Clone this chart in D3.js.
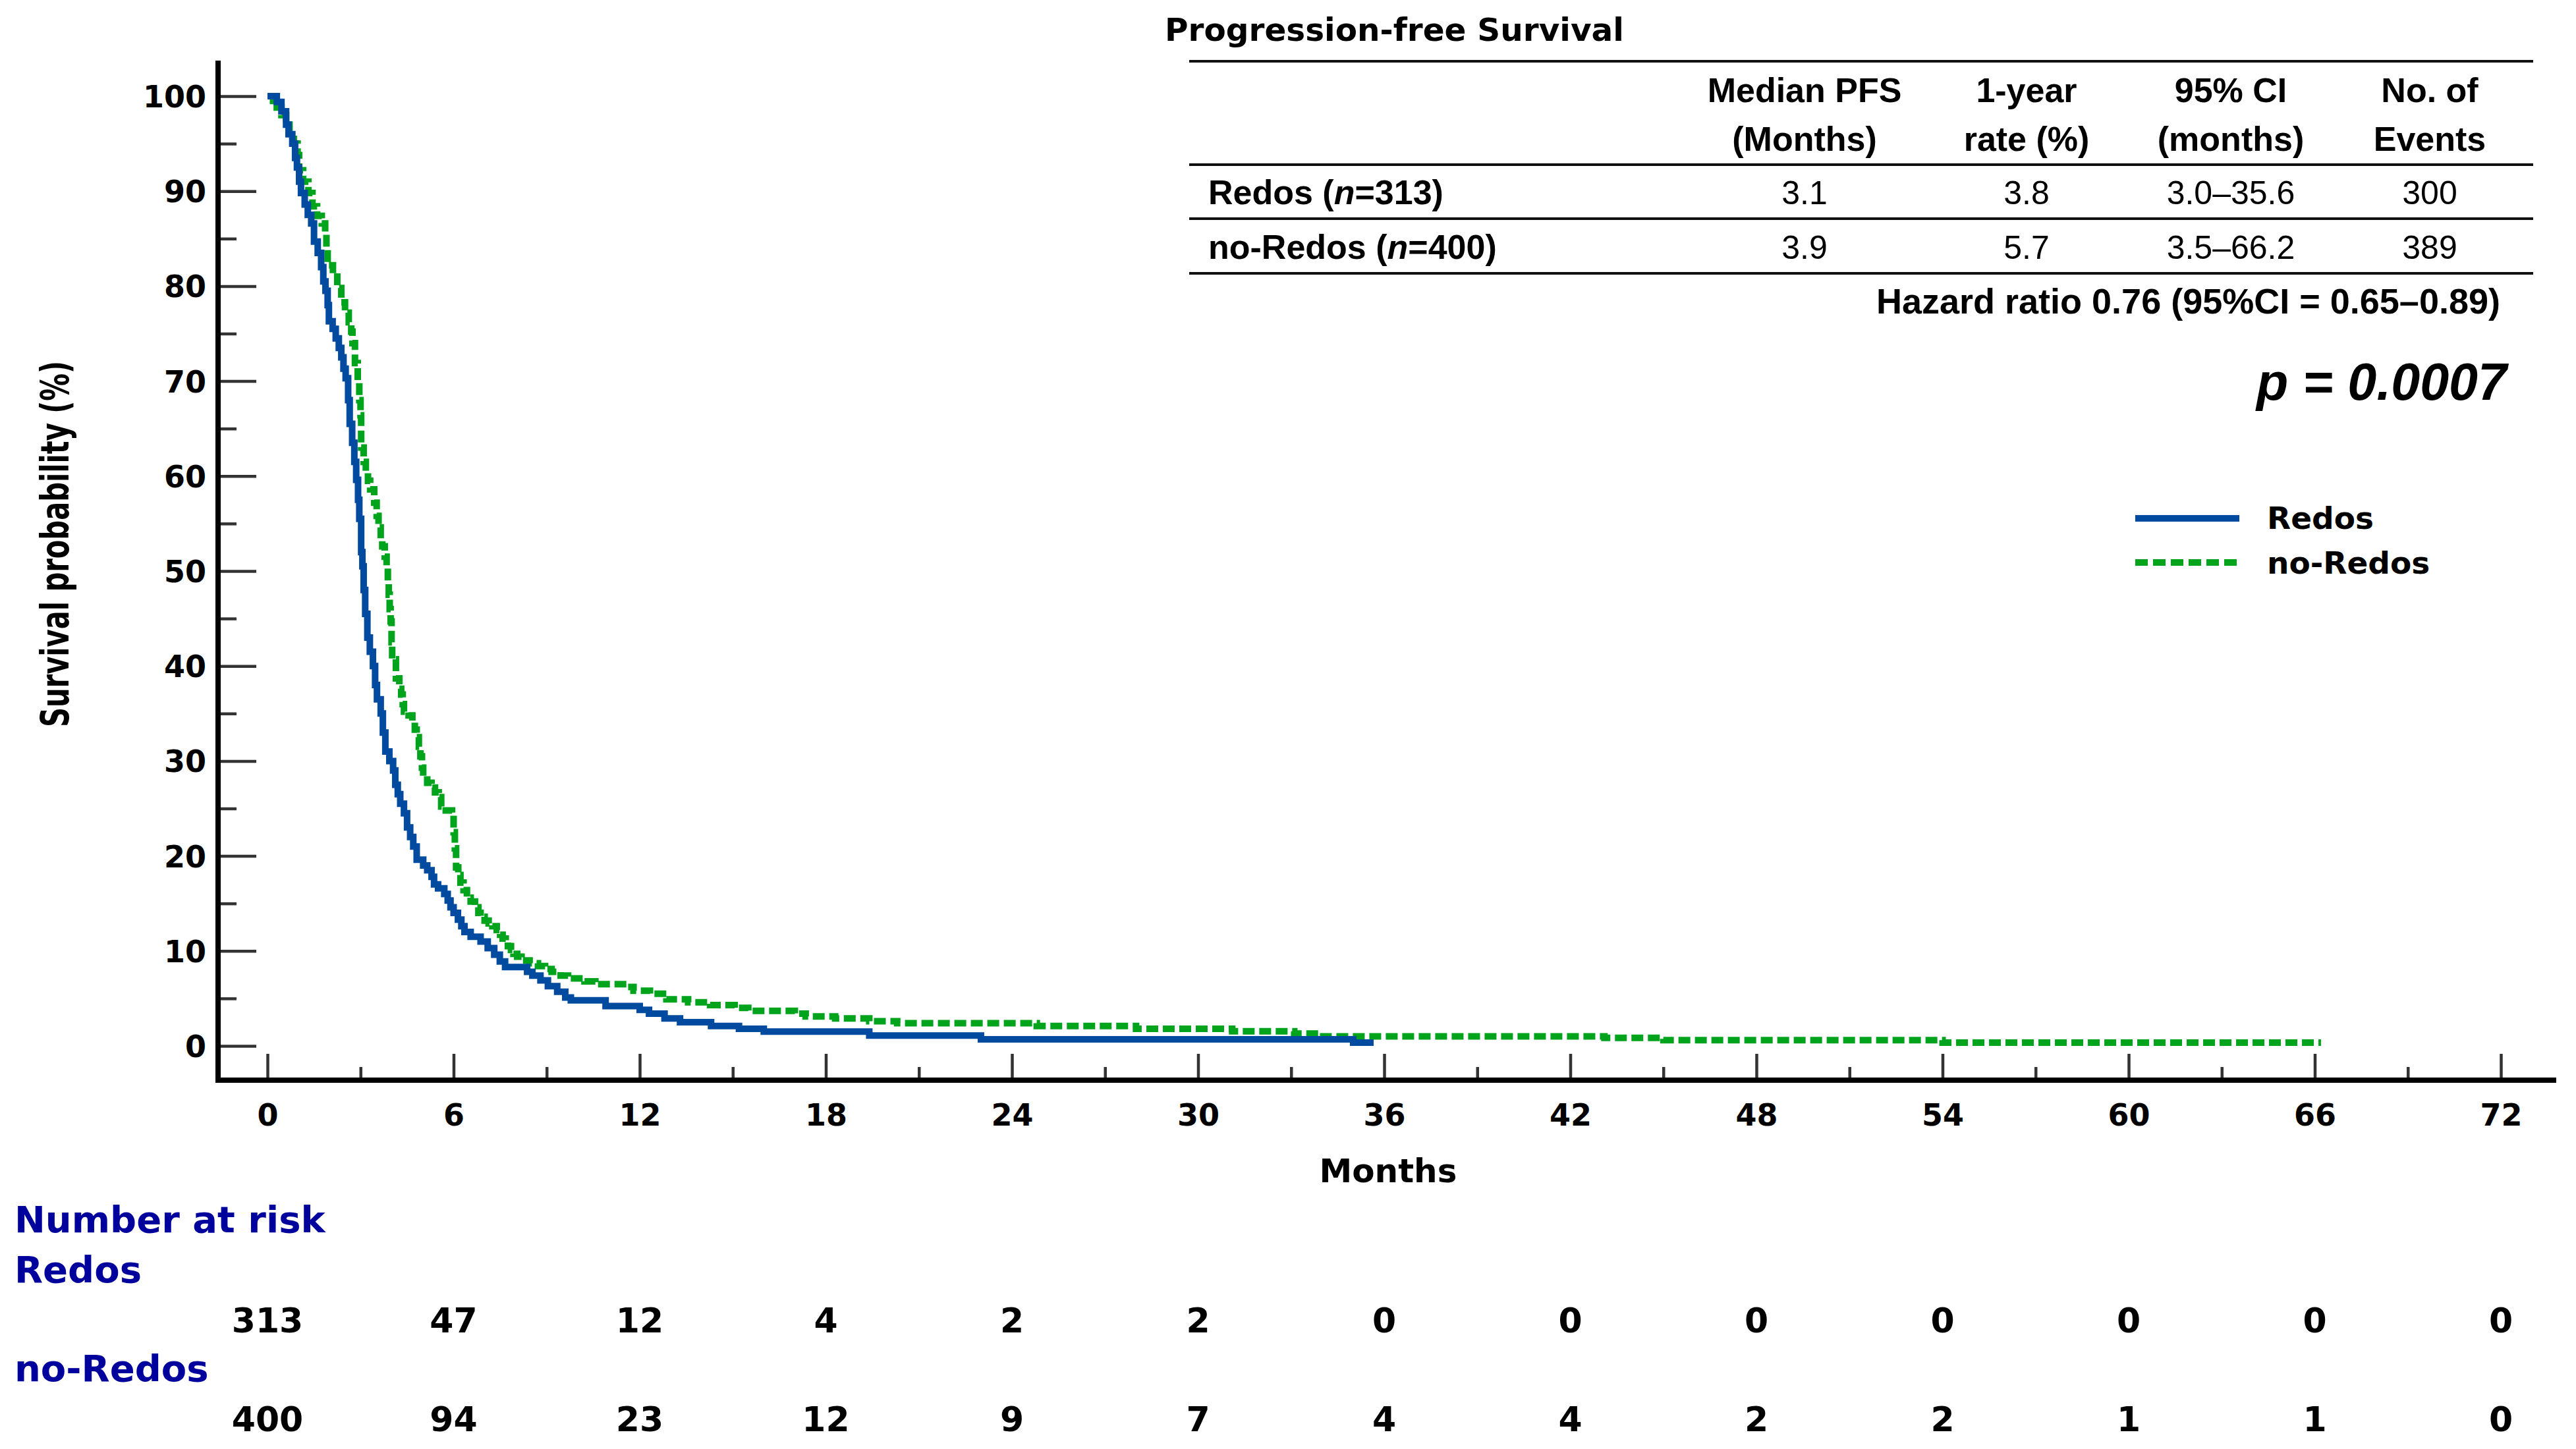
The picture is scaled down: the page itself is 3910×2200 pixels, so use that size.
<!DOCTYPE html>
<html>
<head>
<meta charset="utf-8">
<script src="https://cdn.jsdelivr.net/npm/d3@7"></script>
<style>
  body { margin: 0; background: #fff; }
  svg { display: block; }
</style>
</head>
<body>
<div id="chart-area"></div>
<script>
// ---- data ----
var redosTime = [0, 0.3, 0.45, 0.6, 0.68, 0.8, 0.89, 0.95, 1.02, 1.08, 1.2, 1.3, 1.41, 1.5, 1.62, 1.73, 1.8, 1.87, 1.94, 1.98,
  2.1, 2.2, 2.3, 2.38, 2.45, 2.52, 2.6, 2.65, 2.73, 2.8, 2.86, 2.92, 2.96, 3.02, 3.06, 3.1, 3.15, 3.22, 3.3, 3.4, 3.47, 3.53,
  3.65, 3.72, 3.8, 3.93, 4.05, 4.12, 4.2, 4.28, 4.4, 4.5, 4.6, 4.7, 4.81, 5.02, 5.15, 5.29, 5.37, 5.5, 5.7, 5.81, 5.9, 6.0,
  6.14, 6.25, 6.35, 6.55, 6.87, 7.1, 7.31, 7.49, 7.66, 8.37, 8.54, 8.8, 9.04, 9.34, 9.6, 9.78, 10.9, 12.0, 12.3, 12.8, 13.3,
  14.3, 15.2, 16.0, 19.4, 23.0, 35.0, 35.66];
var redosSurv = [100, 99.4, 98.4, 97, 96, 95, 93.5, 92.5, 91, 89.8, 88.6, 87.5, 86.6, 84.7, 83.5, 82, 80.5, 79.5, 78, 76.3,
  75.5, 74.5, 73.5, 72.5, 71.3, 70.3, 68, 65.5, 63.5, 61.5, 59.6, 57.5, 55.5, 52, 50.5, 48, 45.5, 43, 41.5, 40, 38, 36.5,
  35, 33, 31, 30, 29, 27.5, 26.5, 25.5, 24.5, 23, 22, 21, 19.6, 19, 18.5, 17.8, 17, 16.6, 16, 15.3, 14.6, 14,
  13.3, 12.6, 12, 11.5, 11, 10.3, 9.6, 8.9, 8.3, 7.8, 7.4, 6.9, 6.3, 5.7, 5.1, 4.8, 4.2, 3.8, 3.4, 2.9, 2.5,
  2.1, 1.8, 1.5, 1.1, 0.7, 0.35, 0.35];

var noRedosTime = [0, 0.18, 0.3, 0.45, 0.6, 0.71, 0.85, 0.97, 1.02, 1.15, 1.32, 1.45, 1.6, 1.75, 1.86, 1.9, 1.94, 2.11, 2.25,
  2.38, 2.5, 2.62, 2.7, 2.74, 2.82, 2.91, 2.96, 3.0, 3.02, 3.1, 3.17, 3.24, 3.31, 3.44, 3.52, 3.58, 3.65, 3.7, 3.78, 3.84,
  3.88, 3.91, 3.94, 3.97, 4.0, 4.02, 4.14, 4.25, 4.31, 4.36, 4.4, 4.55, 4.67, 4.75, 4.81, 4.88, 4.93, 4.98, 5.02, 5.15,
  5.29, 5.4, 5.52, 5.6, 5.64, 5.95, 6.0, 6.04, 6.08, 6.15, 6.22, 6.32, 6.43, 6.55, 6.69, 6.8, 6.87, 7.0, 7.13, 7.25, 7.39,
  7.5, 7.58, 7.68, 7.75, 7.85, 7.93, 8.05, 8.19, 8.45, 8.72, 8.95, 9.16, 9.45, 9.69, 10.22, 10.57, 11.6, 11.8, 12.33,
  12.86, 13.56, 14.27, 15.06, 15.5, 17.0, 17.35, 18.3, 19.4, 20.3, 24.8, 28.0, 31.1, 33.1, 33.9, 43.1, 45.0, 54.0, 66.2];
var noRedosSurv = [100, 99.5, 98.8, 98, 97, 96.2, 95, 93.8, 92.2, 91, 89.8, 88.4, 87.4, 86.6, 85.5, 84, 82.2, 81, 79.8,
  78.3, 77.2, 76.2, 75.2, 74, 71.9, 69.9, 68, 66.4, 63, 61.5, 60.5, 59.5, 58.6, 57.2, 55.8, 54.6, 53.4, 52.6, 51.5, 50.6,
  49, 47.5, 46, 44.7, 42.5, 40.7, 38.7, 37.6, 37, 36, 35.2, 34.8, 34.2, 33.3, 32.5, 31.5, 30.5, 29.3, 28.4, 27.7,
  27.2, 26.7, 26.2, 25.2, 24.8, 24.4, 22.5, 20.8, 18.8, 18, 17.2, 16.4, 15.6, 15.2, 14.6, 14, 13.6, 13.2, 12.9, 12.6, 12.2,
  11.7, 11.3, 10.9, 10.5, 10.1, 9.7, 9.4, 9.0, 8.7, 8.4, 8.1, 7.8, 7.4, 7.1, 6.8, 6.5, 6.2, 5.8, 5.5,
  4.9, 4.6, 4.3, 4.0, 3.7, 3.4, 3.1, 2.9, 2.6, 2.4, 2.1, 1.8, 1.55, 1.3, 1.0, 0.85, 0.6, 0.35, 0.35];

var riskTimes = [0, 6, 12, 18, 24, 30, 36, 42, 48, 54, 60, 66, 72];
var riskRedos = [313, 47, 12, 4, 2, 2, 0, 0, 0, 0, 0, 0, 0];
var riskNoRedos = [400, 94, 23, 12, 9, 7, 4, 4, 2, 2, 1, 1, 0];

var tableHeader1 = ["Median PFS", "1-year", "95% CI", "No. of"];
var tableHeader2 = ["(Months)", "rate (%)", "(months)", "Events"];
var tableGroups = ["Redos", "no-Redos"];
var tableN = [313, 400];
var tableRows = [["3.1", "3.8", "3.0\u201335.6", "300"], ["3.9", "5.7", "3.5\u201366.2", "389"]];

var blue = "#004a9f", green = "#00a31c", navy = "#00009c";
var boldFont = "'DejaVu Sans', Verdana, sans-serif";
var tabFont = "'Liberation Sans', Arial, sans-serif";

var width = 3910, height = 2200;
var svg = d3.select("#chart-area").append("svg").attr("width", width).attr("height", height);

// Scales
var x = d3.scaleLinear().domain([0, 72]).range([406, 3796]);
var y = d3.scaleLinear().domain([0, 100]).range([1588, 146]);
var axisY = 1640, axisX = 331;

// Axes (ticks point inward)
var xMinor = svg.append("g").attr("transform", "translate(0," + axisY + ")")
  .call(d3.axisBottom(x).tickValues(d3.range(3, 72, 6)).tickSize(-20).tickFormat(""));
var xMajor = svg.append("g").attr("transform", "translate(0," + axisY + ")")
  .call(d3.axisBottom(x).tickValues(riskTimes).tickSize(-40).tickPadding(36));
var yMinor = svg.append("g").attr("transform", "translate(" + axisX + ",0)")
  .call(d3.axisLeft(y).tickValues(d3.range(5, 100, 10)).tickSize(-28).tickFormat(""));
var yMajor = svg.append("g").attr("transform", "translate(" + axisX + ",0)")
  .call(d3.axisLeft(y).tickValues(d3.range(0, 101, 10)).tickSize(-58).tickPadding(18));

[xMinor, xMajor, yMinor, yMajor].forEach(function(a) {
  a.select(".domain").remove();
  a.selectAll(".tick line").attr("stroke", "#333").attr("stroke-width", 4.5);
  a.selectAll("text").attr("font-family", boldFont).attr("font-weight", "bold").attr("font-size", 46).attr("fill", "#000");
});
yMajor.selectAll("text").attr("dy", "0.36em");

svg.append("line").attr("x1", axisX).attr("x2", axisX).attr("y1", 92).attr("y2", axisY + 4)
  .attr("stroke", "#000").attr("stroke-width", 8);
svg.append("line").attr("x1", axisX - 4).attr("x2", 3880).attr("y1", axisY).attr("y2", axisY)
  .attr("stroke", "#000").attr("stroke-width", 8);

// Axis labels
svg.append("text").attr("transform", "translate(104,826) rotate(-90)").attr("text-anchor", "middle")
  .attr("font-family", "'Liberation Sans Narrow', 'DejaVu Sans Condensed', sans-serif").attr("font-weight", "bold")
  .attr("font-size", 58).attr("textLength", 556).attr("lengthAdjust", "spacingAndGlyphs")
  .text("Survival probability (%)");
svg.append("text").attr("x", 2107).attr("y", 1795).attr("text-anchor", "middle")
  .attr("font-family", boldFont).attr("font-weight", "bold").attr("font-size", 50).text("Months");

// KM curves
var line = d3.line().x(function(d) { return x(d[0]); }).y(function(d) { return y(d[1]); }).curve(d3.curveStepAfter);
var redosPts = redosTime.map(function(t, i) { return [t, redosSurv[i]]; });
var noRedosPts = noRedosTime.map(function(t, i) { return [t, noRedosSurv[i]]; });

svg.append("path").datum(noRedosPts).attr("d", line).attr("fill", "none").attr("stroke", green)
  .attr("stroke-width", 10).attr("stroke-dasharray", "18,7");
svg.append("path").datum(redosPts).attr("d", line).attr("fill", "none").attr("stroke", blue)
  .attr("stroke-width", 10);

// Legend
var legend = svg.append("g").attr("transform", "translate(3241,787)");
legend.append("line").attr("x1", 0).attr("x2", 158).attr("y1", 0).attr("y2", 0).attr("stroke", blue).attr("stroke-width", 10);
legend.append("line").attr("x1", 0).attr("x2", 154).attr("y1", 67).attr("y2", 67).attr("stroke", green)
  .attr("stroke-width", 10).attr("stroke-dasharray", "19,8");
legend.append("text").attr("x", 200).attr("y", 16).attr("font-family", boldFont).attr("font-weight", "bold")
  .attr("font-size", 47).text("Redos");
legend.append("text").attr("x", 200).attr("y", 84).attr("font-family", boldFont).attr("font-weight", "bold")
  .attr("font-size", 47).text("no-Redos");

// Summary table
svg.append("text").attr("x", 1768).attr("y", 62).attr("font-family", boldFont).attr("font-weight", "bold")
  .attr("font-size", 48.5).text("Progression-free Survival");

[93, 250, 332, 415].forEach(function(ly) {
  svg.append("line").attr("x1", 1805).attr("x2", 3845).attr("y1", ly).attr("y2", ly)
    .attr("stroke", "#111").attr("stroke-width", 4);
});
var colX = [2739, 3076, 3386, 3688];
tableHeader1.forEach(function(h, i) {
  svg.append("text").attr("x", colX[i]).attr("y", 155).attr("text-anchor", "middle").attr("font-family", tabFont)
    .attr("font-weight", "bold").attr("font-size", 52).text(h);
  svg.append("text").attr("x", colX[i]).attr("y", 229).attr("text-anchor", "middle").attr("font-family", tabFont)
    .attr("font-weight", "bold").attr("font-size", 52).text(tableHeader2[i]);
});
var rowY = [310, 393];
tableGroups.forEach(function(g, r) {
  var t = svg.append("text").attr("x", 1834).attr("y", rowY[r]).attr("font-family", tabFont)
    .attr("font-weight", "bold").attr("font-size", 52);
  t.append("tspan").text(g + " (");
  t.append("tspan").attr("font-style", "italic").text("n");
  t.append("tspan").text("=" + tableN[r] + ")");
  tableRows[r].forEach(function(v, i) {
    svg.append("text").attr("x", colX[i]).attr("y", rowY[r]).attr("text-anchor", "middle").attr("font-family", tabFont)
      .attr("font-size", 50).text(v);
  });
});
svg.append("text").attr("x", 3795).attr("y", 476).attr("text-anchor", "end").attr("font-family", tabFont)
  .attr("font-weight", "bold").attr("font-size", 54).text("Hazard ratio 0.76 (95%CI = 0.65\u20130.89)");
svg.append("text").attr("x", 3805).attr("y", 607).attr("text-anchor", "end").attr("font-family", tabFont)
  .attr("font-weight", "bold").attr("font-style", "italic").attr("font-size", 79).text("p = 0.0007");

// Number at risk
var riskText = function(txt, yy, color) {
  svg.append("text").attr("x", 22).attr("y", yy).attr("font-family", boldFont).attr("font-weight", "bold")
    .attr("font-size", 56).attr("fill", color).text(txt);
};
riskText("Number at risk", 1871, navy);
riskText("Redos", 1947, navy);
riskText("no-Redos", 2097, navy);

svg.append("g").selectAll("text").data(riskRedos).enter().append("text")
  .attr("x", function(d, i) { return x(riskTimes[i]); }).attr("y", 2023).attr("text-anchor", "middle")
  .attr("font-family", boldFont).attr("font-weight", "bold").attr("font-size", 52).text(function(d) { return d; });
svg.append("g").selectAll("text").data(riskNoRedos).enter().append("text")
  .attr("x", function(d, i) { return x(riskTimes[i]); }).attr("y", 2173).attr("text-anchor", "middle")
  .attr("font-family", boldFont).attr("font-weight", "bold").attr("font-size", 52).text(function(d) { return d; });
</script>
</body>
</html>
